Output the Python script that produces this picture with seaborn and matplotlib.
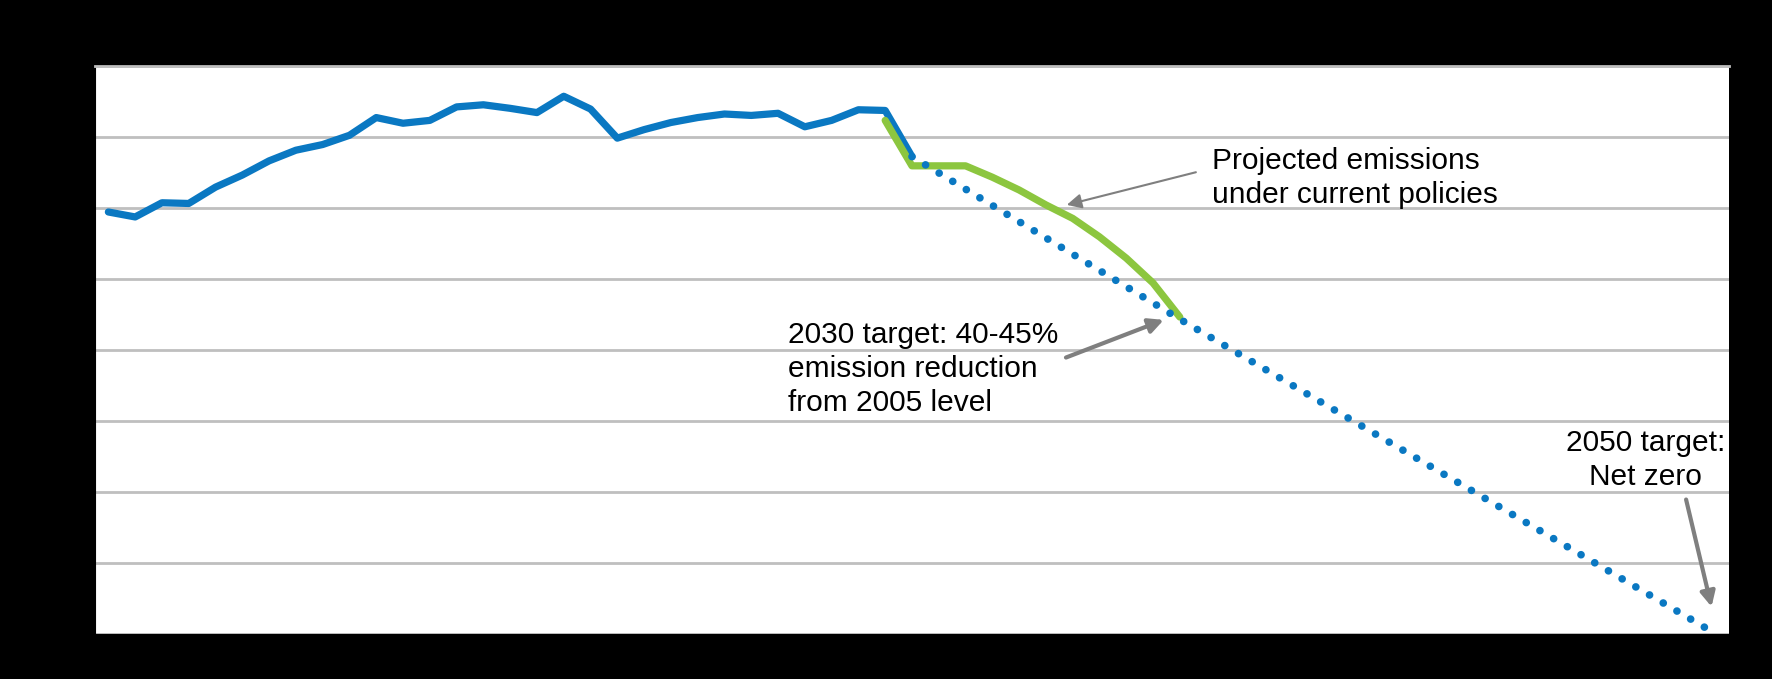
import matplotlib
matplotlib.use("Agg")
import matplotlib.pyplot as plt
import seaborn as sns
import pandas as pd

# Historical emissions (Mt CO2 eq), 1990-2020
hist_years = list(range(1990, 2021))
hist_values = [594, 587, 607, 606, 629, 646, 666, 681, 689, 702,
               727, 719, 723, 742, 745, 740, 734, 757, 739, 698,
               710, 720, 727, 732, 730, 733, 714, 723, 738, 737, 672]

# Projection under current policies, 2019-2030
proj_years = list(range(2019, 2031))
proj_values = [723, 659, 659, 659, 643, 625, 604, 585, 559, 529, 494, 446]

# Target pathway
target_years = [2020, 2030, 2050]
target_values = [672, 443, 0]

tick_years = list(range(1990, 2051, 5))
y_ticks = list(range(0, 801, 100))

hist = pd.DataFrame({"year": hist_years, "value": hist_values})
proj = pd.DataFrame({"year": proj_years, "value": proj_values})
target = pd.DataFrame({"year": target_years, "value": target_values})

sns.set_style("white")
plt.rcParams["font.family"] = ["Liberation Sans", "DejaVu Sans"]
plt.rcParams["text.color"] = "black"

blue = "#0A78C2"
green = "#8CC63F"
grid_gray = "#BFBFBF"
arrow_gray = "#7F7F7F"

fig = plt.figure(figsize=(17.72, 6.79), dpi=100, facecolor="black")
ax = fig.add_axes([0.0536, 0.0667, 0.9221, 0.8365])
ax.set_facecolor("white")

sns.lineplot(data=hist, x="year", y="value", ax=ax, color=blue, lw=5.2,
             solid_joinstyle="round", zorder=3)
sns.lineplot(data=proj, x="year", y="value", ax=ax, color=green, lw=5.2,
             solid_joinstyle="round", zorder=4)
sns.lineplot(data=target, x="year", y="value", ax=ax, color=blue, lw=5.5,
             linestyle=(0, (0.01, 2.07)), dash_capstyle="round",
             zorder=5, clip_on=False)

ax.set_xlim(1989.5, 2050.5)
ax.set_ylim(0, 800)
ax.set_yticks(y_ticks)
ax.set_xticks(tick_years)
ax.set_xticks([y - 0.5 for y in tick_years], minor=True)
ax.yaxis.grid(True, color=grid_gray, lw=2)
ax.xaxis.grid(False)
ax.tick_params(axis="x", which="major", length=0, labelsize=19,
               labelcolor="black", pad=14)
ax.tick_params(axis="x", which="minor", direction="in", length=8,
               width=2.5, color="black")
ax.tick_params(axis="y", length=0, labelsize=19, labelcolor="black", pad=28)
ax.set_xlabel("")
ax.set_ylabel("")

ax.spines["right"].set_visible(False)
ax.spines["top"].set_color(grid_gray)
ax.spines["top"].set_linewidth(2)
ax.spines["left"].set_color("black")
ax.spines["bottom"].set_color("black")

fig.text(0.01, 0.97, "Mt CO$_2$ eq", fontsize=19, color="black", va="top")

fs = 21.5
ls = 1.28

ax.text(2031.2, 686, "Projected emissions\nunder current policies",
        fontsize=fs, va="top", ha="left", linespacing=ls, color="black")
ax.annotate("", xy=(2025.78, 604), xytext=(2030.6, 650),
            arrowprops=dict(arrowstyle="-|>", color=arrow_gray, lw=1.5,
                            mutation_scale=22, shrinkA=0, shrinkB=0))

ax.text(2015.36, 441, "2030 target: 40-45%\nemission reduction\nfrom 2005 level",
        fontsize=fs, va="top", ha="left", linespacing=ls, color="black")
ax.annotate("", xy=(2029.4, 442), xytext=(2025.75, 389),
            arrowprops=dict(arrowstyle="-|>", color=arrow_gray, lw=3,
                            mutation_scale=22, shrinkA=0, shrinkB=0))

ax.text(2047.4, 288, "2050 target:\nNet zero", fontsize=fs, va="top",
        ha="center", linespacing=ls, color="black")
ax.annotate("", xy=(2049.85, 38), xytext=(2048.9, 189),
            arrowprops=dict(arrowstyle="-|>", color=arrow_gray, lw=3,
                            mutation_scale=22, shrinkA=0, shrinkB=0))

fig.savefig("out.png", dpi=100, facecolor="black")
